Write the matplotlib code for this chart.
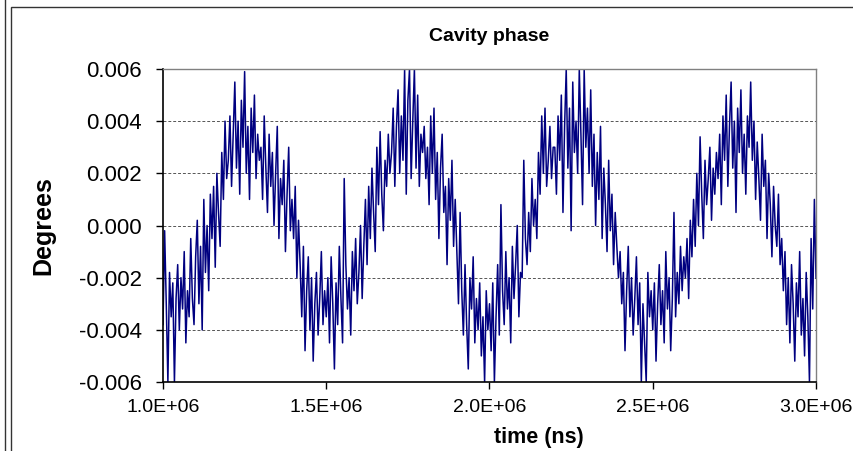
import matplotlib
matplotlib.use("Agg")
import matplotlib.pyplot as plt
from matplotlib.lines import Line2D
from matplotlib.patches import Rectangle
import numpy as np

plt.rcParams["font.family"] = ["Liberation Sans", "DejaVu Sans"]

# samples every 5000 ns from 1.0E+06 to 3.0E+06
T_START = 1.0e6
T_STEP = 5000.0

# cavity phase, in units of 1e-4 degrees (20 samples per 1E+05 ns)
phase_e4 = [
    -38, -2, -30, -60, -18, -35, -22, -60, -28, -15, -40, -20, -32, -10, -45, -25, -35, -5, -28, -38,
    -12, 2, -30, -8, -40, 10, -18, 0, -25, 12, -5, 15, -16, 20, 5, -8, 28, 10, 40, 18,
    25, 42, 15, 35, 55, 22, 40, 12, 48, 30, 59, 20, 38, 10, 45, 28, 50, 18, 35, 25,
    30, 10, 42, 22, 5, 35, 15, 28, 0, 20, 38, -5, 18, 8, 25, -10, 12, 30, -2, 10,
    -5, 15, -20, 2, -15, -35, -8, -48, -25, -12, -40, -20, -52, -30, -18, -42, -28, -10, -38, -25,
    -35, -20, -45, -12, -30, -55, -22, -38, -8, -28, -45, 18, -15, -32, -20, -42, -10, -25, -5, -30,
    -18, 0, -28, -8, 10, -15, 15, -5, 22, 5, -10, 30, 8, 36, 12, -2, 25, 15, 35, 20,
    28, 45, 15, 38, 52, 20, 42, 25, 60, 12, 48, 60, 18, 40, 60, 22, 50, 15, 35, 28,
    38, 18, 30, 8, 42, 20, 45, 10, 28, -5, 22, 35, 5, 15, -15, 18, 2, 25, -8, 10,
    -10, -30, 5, -25, -42, -15, -38, -55, -20, -32, -12, -45, -28, -40, -22, -50, -35, -60, -25, -40,
    -30, -48, -22, -60, -35, -15, -42, 8, -25, -38, -10, -32, -20, -45, -8, -28, -15, 0, -35, -18,
    -20, 25, -5, -15, 5, -10, 18, 0, 10, -5, 28, 12, 42, 20, 45, 15, 25, 38, 18, 30,
    30, 12, 42, 25, 50, 5, 38, 60, 22, 45, -2, 55, 28, 40, 20, 60, 35, 8, 60, 30,
    45, 20, 52, 15, 35, 0, 28, 10, 38, -5, 22, 8, -10, 25, -2, 12, -15, 5, -8, -20,
    -10, -30, -18, -48, -25, -8, -35, -20, -42, -28, -12, -38, -22, -60, -30, -45, -60, -18, -35, -25,
    -40, -22, -52, -30, -15, -38, -25, -45, -10, -32, -20, -48, -28, 5, -35, -18, -30, -8, -25, -12,
    -20, -5, -28, 2, -12, 10, -8, 20, 0, 34, 12, -5, 25, 8, 18, 30, 2, 22, 12, 28,
    18, 35, 8, 42, 25, 50, 15, 38, 55, 22, 40, 5, 45, 28, 52, 20, 35, 12, 42, 30,
    55, 25, 40, 10, 32, 18, 2, 35, 15, 25, -5, 20, 8, -12, 15, 0, -8, 12, -15, -5,
    -25, -10, -38, -20, -45, -15, -30, -52, -22, -35, -10, -42, -28, -50, -18, -35, -60, -5, -32, 10, -20,
]

y_ticks = [-0.006, -0.004, -0.002, 0.000, 0.002, 0.004, 0.006]
x_ticks = [1.0e6, 1.5e6, 2.0e6, 2.5e6, 3.0e6]
x_tick_labels = ["1.0E+06", "1.5E+06", "2.0E+06", "2.5E+06", "3.0E+06"]

phase = np.array(phase_e4, dtype=float) * 1e-4
time_ns = T_START + T_STEP * np.arange(len(phase))

W, H = 854, 451
fig = plt.figure(figsize=(W / 100, H / 100), dpi=100)
ax = fig.add_axes([163 / W, 1 - 382 / H, (816 - 163) / W, (382 - 69) / H])

ax.plot(time_ns, phase, color="#000080", linewidth=1.1)

ax.set_xlim(1.0e6, 3.0e6)
ax.set_ylim(-0.006, 0.006)
ax.set_yticks(y_ticks)
ax.set_yticklabels([f"{v:.3f}" for v in y_ticks])
ax.set_xticks(x_ticks)
ax.set_xticklabels(x_tick_labels)
ax.tick_params(axis="both", direction="out", length=5, width=1, colors="black")
ax.tick_params(axis="y", pad=10, labelsize=16)
ax.tick_params(axis="x", pad=7, labelsize=14)

ax.yaxis.grid(True, color="#555555", linestyle=(0, (3, 2)), linewidth=0.7)
ax.set_axisbelow(True)
for side in ("left", "bottom"):
    ax.spines[side].set_color("black")
    ax.spines[side].set_linewidth(1.2)
for side in ("top", "right"):
    ax.spines[side].set_color("#808080")
    ax.spines[side].set_linewidth(1.0)

ax.set_title("Cavity phase", fontsize=14, fontweight="bold", pad=20)
ax.set_xlabel("time (ns)", fontsize=15.5, fontweight="bold")
ax.xaxis.set_label_coords((539 - 163) / 653, -(437 - 382) / 313, transform=ax.transAxes)
ax.xaxis.label.set_verticalalignment("center")
ax.set_ylabel("Degrees", fontsize=18, fontweight="bold")
ax.yaxis.set_label_coords(-(163 - 43) / 653, 0.5, transform=ax.transAxes)
ax.yaxis.label.set_verticalalignment("center")

# outer chart frame
fig.add_artist(Line2D([5.5 / W, 5.5 / W], [0, 1], transform=fig.transFigure,
                      color="#333333", linewidth=1.0))
fig.add_artist(Rectangle((11 / W, -0.05), 1.0, 1 - 7 / H + 0.05, transform=fig.transFigure,
                         fill=False, edgecolor="#333333", linewidth=1.0))

fig.savefig("out.png", dpi=100)
